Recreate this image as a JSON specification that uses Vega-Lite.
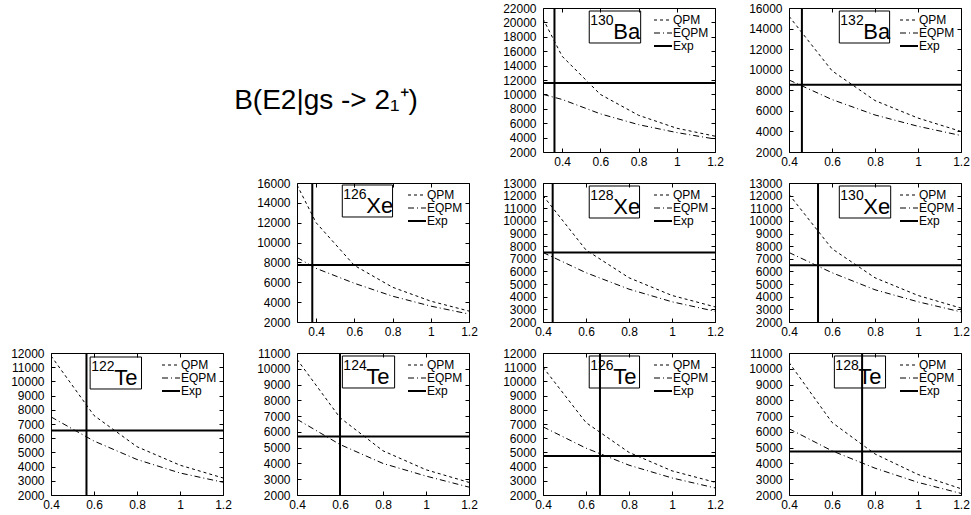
{
"$schema": "https://vega.github.io/schema/vega-lite/v6.json",
"padding": {"left": 10, "top": 1, "right": 0, "bottom": 0},
"background": "white",
"datasets": {
"curves": [
{"nucleus":"130Ba","model":"QPM","param":0.3,"be2":20500},{"nucleus":"130Ba","model":"QPM","param":0.4,"be2":15300},{"nucleus":"130Ba","model":"QPM","param":0.6,"be2":10000},{"nucleus":"130Ba","model":"QPM","param":0.8,"be2":7100},{"nucleus":"130Ba","model":"QPM","param":1.0,"be2":5300},{"nucleus":"130Ba","model":"QPM","param":1.2,"be2":4200},
{"nucleus":"130Ba","model":"EQPM","param":0.3,"be2":10000},{"nucleus":"130Ba","model":"EQPM","param":0.4,"be2":9300},{"nucleus":"130Ba","model":"EQPM","param":0.6,"be2":7300},{"nucleus":"130Ba","model":"EQPM","param":0.8,"be2":5800},{"nucleus":"130Ba","model":"EQPM","param":1.0,"be2":4700},{"nucleus":"130Ba","model":"EQPM","param":1.2,"be2":3800},
{"nucleus":"132Ba","model":"QPM","param":0.4,"be2":15200},{"nucleus":"132Ba","model":"QPM","param":0.6,"be2":9900},{"nucleus":"132Ba","model":"QPM","param":0.8,"be2":7000},{"nucleus":"132Ba","model":"QPM","param":1.0,"be2":5300},{"nucleus":"132Ba","model":"QPM","param":1.2,"be2":4000},
{"nucleus":"132Ba","model":"EQPM","param":0.4,"be2":9000},{"nucleus":"132Ba","model":"EQPM","param":0.6,"be2":7100},{"nucleus":"132Ba","model":"EQPM","param":0.8,"be2":5600},{"nucleus":"132Ba","model":"EQPM","param":1.0,"be2":4500},{"nucleus":"132Ba","model":"EQPM","param":1.2,"be2":3600},
{"nucleus":"126Xe","model":"QPM","param":0.3,"be2":15800},{"nucleus":"126Xe","model":"QPM","param":0.4,"be2":12000},{"nucleus":"126Xe","model":"QPM","param":0.6,"be2":7700},{"nucleus":"126Xe","model":"QPM","param":0.8,"be2":5500},{"nucleus":"126Xe","model":"QPM","param":1.0,"be2":4100},{"nucleus":"126Xe","model":"QPM","param":1.2,"be2":3100},
{"nucleus":"126Xe","model":"EQPM","param":0.3,"be2":8500},{"nucleus":"126Xe","model":"EQPM","param":0.4,"be2":7400},{"nucleus":"126Xe","model":"EQPM","param":0.6,"be2":5900},{"nucleus":"126Xe","model":"EQPM","param":0.8,"be2":4600},{"nucleus":"126Xe","model":"EQPM","param":1.0,"be2":3600},{"nucleus":"126Xe","model":"EQPM","param":1.2,"be2":2800},
{"nucleus":"128Xe","model":"QPM","param":0.4,"be2":12000},{"nucleus":"128Xe","model":"QPM","param":0.6,"be2":7700},{"nucleus":"128Xe","model":"QPM","param":0.8,"be2":5500},{"nucleus":"128Xe","model":"QPM","param":1.0,"be2":4100},{"nucleus":"128Xe","model":"QPM","param":1.2,"be2":3200},
{"nucleus":"128Xe","model":"EQPM","param":0.4,"be2":7500},{"nucleus":"128Xe","model":"EQPM","param":0.6,"be2":5900},{"nucleus":"128Xe","model":"EQPM","param":0.8,"be2":4600},{"nucleus":"128Xe","model":"EQPM","param":1.0,"be2":3600},{"nucleus":"128Xe","model":"EQPM","param":1.2,"be2":2850},
{"nucleus":"130Xe","model":"QPM","param":0.4,"be2":12100},{"nucleus":"130Xe","model":"QPM","param":0.6,"be2":7800},{"nucleus":"130Xe","model":"QPM","param":0.8,"be2":5500},{"nucleus":"130Xe","model":"QPM","param":1.0,"be2":4100},{"nucleus":"130Xe","model":"QPM","param":1.2,"be2":3100},
{"nucleus":"130Xe","model":"EQPM","param":0.4,"be2":7500},{"nucleus":"130Xe","model":"EQPM","param":0.6,"be2":5900},{"nucleus":"130Xe","model":"EQPM","param":0.8,"be2":4550},{"nucleus":"130Xe","model":"EQPM","param":1.0,"be2":3600},{"nucleus":"130Xe","model":"EQPM","param":1.2,"be2":2800},
{"nucleus":"122Te","model":"QPM","param":0.4,"be2":11800},{"nucleus":"122Te","model":"QPM","param":0.6,"be2":7600},{"nucleus":"122Te","model":"QPM","param":0.8,"be2":5400},{"nucleus":"122Te","model":"QPM","param":1.0,"be2":4100},{"nucleus":"122Te","model":"QPM","param":1.2,"be2":3200},
{"nucleus":"122Te","model":"EQPM","param":0.4,"be2":7500},{"nucleus":"122Te","model":"EQPM","param":0.6,"be2":5800},{"nucleus":"122Te","model":"EQPM","param":0.8,"be2":4500},{"nucleus":"122Te","model":"EQPM","param":1.0,"be2":3550},{"nucleus":"122Te","model":"EQPM","param":1.2,"be2":2900},
{"nucleus":"124Te","model":"QPM","param":0.4,"be2":10600},{"nucleus":"124Te","model":"QPM","param":0.6,"be2":6900},{"nucleus":"124Te","model":"QPM","param":0.8,"be2":4800},{"nucleus":"124Te","model":"QPM","param":1.0,"be2":3600},{"nucleus":"124Te","model":"QPM","param":1.2,"be2":2800},
{"nucleus":"124Te","model":"EQPM","param":0.4,"be2":6800},{"nucleus":"124Te","model":"EQPM","param":0.6,"be2":5200},{"nucleus":"124Te","model":"EQPM","param":0.8,"be2":4000},{"nucleus":"124Te","model":"EQPM","param":1.0,"be2":3200},{"nucleus":"124Te","model":"EQPM","param":1.2,"be2":2500},
{"nucleus":"126Te","model":"QPM","param":0.4,"be2":11000},{"nucleus":"126Te","model":"QPM","param":0.6,"be2":7100},{"nucleus":"126Te","model":"QPM","param":0.8,"be2":5000},{"nucleus":"126Te","model":"QPM","param":1.0,"be2":3700},{"nucleus":"126Te","model":"QPM","param":1.2,"be2":2900},
{"nucleus":"126Te","model":"EQPM","param":0.4,"be2":6800},{"nucleus":"126Te","model":"EQPM","param":0.6,"be2":5300},{"nucleus":"126Te","model":"EQPM","param":0.8,"be2":4100},{"nucleus":"126Te","model":"EQPM","param":1.0,"be2":3200},{"nucleus":"126Te","model":"EQPM","param":1.2,"be2":2500},
{"nucleus":"128Te","model":"QPM","param":0.4,"be2":10400},{"nucleus":"128Te","model":"QPM","param":0.6,"be2":6600},{"nucleus":"128Te","model":"QPM","param":0.8,"be2":4600},{"nucleus":"128Te","model":"QPM","param":1.0,"be2":3300},{"nucleus":"128Te","model":"QPM","param":1.2,"be2":2400},
{"nucleus":"128Te","model":"EQPM","param":0.4,"be2":6200},{"nucleus":"128Te","model":"EQPM","param":0.6,"be2":4800},{"nucleus":"128Te","model":"EQPM","param":0.8,"be2":3700},{"nucleus":"128Te","model":"EQPM","param":1.0,"be2":2800},{"nucleus":"128Te","model":"EQPM","param":1.2,"be2":2100}
],
"exp": [
{"nucleus":"130Ba","exp_param":0.36,"exp_be2":11600},
{"nucleus":"132Ba","exp_param":0.46,"exp_be2":8550},
{"nucleus":"126Xe","exp_param":0.38,"exp_be2":7750},
{"nucleus":"128Xe","exp_param":0.445,"exp_be2":7500},
{"nucleus":"130Xe","exp_param":0.535,"exp_be2":6500},
{"nucleus":"122Te","exp_param":0.565,"exp_be2":6550},
{"nucleus":"124Te","exp_param":0.6,"exp_be2":5700},
{"nucleus":"126Te","exp_param":0.665,"exp_be2":4750},
{"nucleus":"128Te","exp_param":0.74,"exp_be2":4750}
],
"labels": [
{"nucleus":"130Ba","mass":"130","element":"Ba"},
{"nucleus":"132Ba","mass":"132","element":"Ba"},
{"nucleus":"126Xe","mass":"126","element":"Xe"},
{"nucleus":"128Xe","mass":"128","element":"Xe"},
{"nucleus":"130Xe","mass":"130","element":"Xe"},
{"nucleus":"122Te","mass":"122","element":"Te"},
{"nucleus":"124Te","mass":"124","element":"Te"},
{"nucleus":"126Te","mass":"126","element":"Te"},
{"nucleus":"128Te","mass":"128","element":"Te"}
],
"title": [{"t": "B(E2|gs -> 2₁⁺)"}]
},
"columns": 4,
"spacing": {"row": 31, "column": 74},
"bounds": "flush",
"align": "each",
"resolve": {"scale": {"strokeDash": "independent"}},
"concat": [
{"width": 172, "height": 144, "data": {"values": []}, "mark": "point", "view": {"stroke": null}},
{"width": 172, "height": 144, "data": {"name": "title"}, "mark": {"type": "text", "fontSize": 28, "dx": -57, "dy": 21, "color": "black"}, "encoding": {"text": {"field": "t"}}, "view": {"stroke": null}},

{"width": 172, "height": 144, "resolve": {"axis": {"x": "independent", "y": "independent"}}, "layer": [
 {"data": {"name": "curves"}, "transform": [{"filter": "datum.nucleus === '130Ba'"}], "mark": {"type": "line", "color": "black", "strokeWidth": 1, "clip": true},
  "encoding": {
   "x": {"field": "param", "type": "quantitative", "scale": {"domain": [0.3, 1.2], "nice": false, "zero": false}, "axis": {"orient": "bottom", "values": [0.4,0.6,0.8,1,1.2], "format": "~g", "title": null}},
   "y": {"field": "be2", "type": "quantitative", "scale": {"domain": [2000, 22000], "nice": false, "zero": false}, "axis": {"orient": "left", "values": [2000,4000,6000,8000,10000,12000,14000,16000,18000,20000,22000], "format": "d", "title": null}},
   "strokeDash": {"field": "model", "type": "nominal", "scale": {"domain": ["QPM","EQPM","Exp"], "range": [[3,3],[6,3,1,3],[1,0]]}, "legend": {"title": null, "encode": {"symbols": {"update": {"strokeWidth": {"signal": "datum.value === 'Exp' ? 2 : 1"}}}}}}}},
 {"data": {"name": "exp"}, "transform": [{"filter": "datum.nucleus === '130Ba'"}], "mark": {"type": "rule", "color": "black", "strokeWidth": 2},
  "encoding": {"y": {"field": "exp_be2", "type": "quantitative", "axis": {"orient": "right", "values": [2000,4000,6000,8000,10000,12000,14000,16000,18000,20000,22000], "labels": false, "title": null}},
   "strokeDash": {"datum": "Exp", "type": "nominal"}}},
 {"data": {"name": "exp"}, "transform": [{"filter": "datum.nucleus === '130Ba'"}], "mark": {"type": "rule", "color": "black", "strokeWidth": 2},
  "encoding": {"x": {"field": "exp_param", "type": "quantitative", "axis": {"orient": "top", "values": [0.4,0.6,0.8,1,1.2], "labels": false, "title": null}},
   "strokeDash": {"datum": "Exp", "type": "nominal"}}},
 {"data": {"name": "labels"}, "transform": [{"filter": "datum.nucleus === '130Ba'"}], "mark": {"type": "rect", "filled": false, "color": "black", "strokeWidth": 1},
  "encoding": {"x": {"datum": 0.542, "axis": null}, "x2": {"datum": 0.811}, "y": {"datum": 21583, "axis": null}, "y2": {"datum": 17139}}},
 {"data": {"name": "labels"}, "transform": [{"filter": "datum.nucleus === '130Ba'"}], "mark": {"type": "text", "align": "left", "baseline": "top", "fontSize": 14, "dx": 1, "dy": 3, "color": "black"},
  "encoding": {"x": {"datum": 0.542, "axis": null}, "y": {"datum": 21583, "axis": null}, "text": {"field": "mass"}}},
 {"data": {"name": "labels"}, "transform": [{"filter": "datum.nucleus === '130Ba'"}], "mark": {"type": "text", "align": "left", "baseline": "alphabetic", "fontSize": 22, "dx": 24, "dy": -4, "color": "black"},
  "encoding": {"x": {"datum": 0.542, "axis": null}, "y": {"datum": 17139, "axis": null}, "text": {"field": "element"}}}
]},

{"width": 172, "height": 144, "resolve": {"axis": {"x": "independent", "y": "independent"}}, "layer": [
 {"data": {"name": "curves"}, "transform": [{"filter": "datum.nucleus === '132Ba'"}], "mark": {"type": "line", "color": "black", "strokeWidth": 1, "clip": true},
  "encoding": {
   "x": {"field": "param", "type": "quantitative", "scale": {"domain": [0.4, 1.2], "nice": false, "zero": false}, "axis": {"orient": "bottom", "values": [0.4,0.6,0.8,1,1.2], "format": "~g", "title": null}},
   "y": {"field": "be2", "type": "quantitative", "scale": {"domain": [2000, 16000], "nice": false, "zero": false}, "axis": {"orient": "left", "values": [2000,4000,6000,8000,10000,12000,14000,16000], "format": "d", "title": null}},
   "strokeDash": {"field": "model", "type": "nominal", "scale": {"domain": ["QPM","EQPM","Exp"], "range": [[3,3],[6,3,1,3],[1,0]]}, "legend": {"title": null, "encode": {"symbols": {"update": {"strokeWidth": {"signal": "datum.value === 'Exp' ? 2 : 1"}}}}}}}},
 {"data": {"name": "exp"}, "transform": [{"filter": "datum.nucleus === '132Ba'"}], "mark": {"type": "rule", "color": "black", "strokeWidth": 2},
  "encoding": {"y": {"field": "exp_be2", "type": "quantitative", "axis": {"orient": "right", "values": [2000,4000,6000,8000,10000,12000,14000,16000], "labels": false, "title": null}},
   "strokeDash": {"datum": "Exp", "type": "nominal"}}},
 {"data": {"name": "exp"}, "transform": [{"filter": "datum.nucleus === '132Ba'"}], "mark": {"type": "rule", "color": "black", "strokeWidth": 2},
  "encoding": {"x": {"field": "exp_param", "type": "quantitative", "axis": {"orient": "top", "values": [0.4,0.6,0.8,1,1.2], "labels": false, "title": null}},
   "strokeDash": {"datum": "Exp", "type": "nominal"}}},
 {"data": {"name": "labels"}, "transform": [{"filter": "datum.nucleus === '132Ba'"}], "mark": {"type": "rect", "filled": false, "color": "black", "strokeWidth": 1},
  "encoding": {"x": {"datum": 0.634, "axis": null}, "x2": {"datum": 0.868}, "y": {"datum": 15708, "axis": null}, "y2": {"datum": 12597}}},
 {"data": {"name": "labels"}, "transform": [{"filter": "datum.nucleus === '132Ba'"}], "mark": {"type": "text", "align": "left", "baseline": "top", "fontSize": 14, "dx": 1, "dy": 3, "color": "black"},
  "encoding": {"x": {"datum": 0.634, "axis": null}, "y": {"datum": 15708, "axis": null}, "text": {"field": "mass"}}},
 {"data": {"name": "labels"}, "transform": [{"filter": "datum.nucleus === '132Ba'"}], "mark": {"type": "text", "align": "left", "baseline": "alphabetic", "fontSize": 22, "dx": 24, "dy": -4, "color": "black"},
  "encoding": {"x": {"datum": 0.634, "axis": null}, "y": {"datum": 12597, "axis": null}, "text": {"field": "element"}}}
]},

{"width": 172, "height": 139, "data": {"values": []}, "mark": "point", "view": {"stroke": null}},

{"width": 172, "height": 139, "resolve": {"axis": {"x": "independent", "y": "independent"}}, "layer": [
 {"data": {"name": "curves"}, "transform": [{"filter": "datum.nucleus === '126Xe'"}], "mark": {"type": "line", "color": "black", "strokeWidth": 1, "clip": true},
  "encoding": {
   "x": {"field": "param", "type": "quantitative", "scale": {"domain": [0.3, 1.2], "nice": false, "zero": false}, "axis": {"orient": "bottom", "values": [0.4,0.6,0.8,1,1.2], "format": "~g", "title": null}},
   "y": {"field": "be2", "type": "quantitative", "scale": {"domain": [2000, 16000], "nice": false, "zero": false}, "axis": {"orient": "left", "values": [2000,4000,6000,8000,10000,12000,14000,16000], "format": "d", "title": null}},
   "strokeDash": {"field": "model", "type": "nominal", "scale": {"domain": ["QPM","EQPM","Exp"], "range": [[3,3],[6,3,1,3],[1,0]]}, "legend": {"title": null, "encode": {"symbols": {"update": {"strokeWidth": {"signal": "datum.value === 'Exp' ? 2 : 1"}}}}}}}},
 {"data": {"name": "exp"}, "transform": [{"filter": "datum.nucleus === '126Xe'"}], "mark": {"type": "rule", "color": "black", "strokeWidth": 2},
  "encoding": {"y": {"field": "exp_be2", "type": "quantitative", "axis": {"orient": "right", "values": [2000,4000,6000,8000,10000,12000,14000,16000], "labels": false, "title": null}},
   "strokeDash": {"datum": "Exp", "type": "nominal"}}},
 {"data": {"name": "exp"}, "transform": [{"filter": "datum.nucleus === '126Xe'"}], "mark": {"type": "rule", "color": "black", "strokeWidth": 2},
  "encoding": {"x": {"field": "exp_param", "type": "quantitative", "axis": {"orient": "top", "values": [0.4,0.6,0.8,1,1.2], "labels": false, "title": null}},
   "strokeDash": {"datum": "Exp", "type": "nominal"}}},
 {"data": {"name": "labels"}, "transform": [{"filter": "datum.nucleus === '126Xe'"}], "mark": {"type": "rect", "filled": false, "color": "black", "strokeWidth": 1},
  "encoding": {"x": {"datum": 0.537, "axis": null}, "x2": {"datum": 0.8}, "y": {"datum": 15799, "axis": null}, "y2": {"datum": 12576}}},
 {"data": {"name": "labels"}, "transform": [{"filter": "datum.nucleus === '126Xe'"}], "mark": {"type": "text", "align": "left", "baseline": "top", "fontSize": 14, "dx": 1, "dy": 3, "color": "black"},
  "encoding": {"x": {"datum": 0.537, "axis": null}, "y": {"datum": 15799, "axis": null}, "text": {"field": "mass"}}},
 {"data": {"name": "labels"}, "transform": [{"filter": "datum.nucleus === '126Xe'"}], "mark": {"type": "text", "align": "left", "baseline": "alphabetic", "fontSize": 22, "dx": 24, "dy": -4, "color": "black"},
  "encoding": {"x": {"datum": 0.537, "axis": null}, "y": {"datum": 12576, "axis": null}, "text": {"field": "element"}}}
]},

{"width": 172, "height": 139, "resolve": {"axis": {"x": "independent", "y": "independent"}}, "layer": [
 {"data": {"name": "curves"}, "transform": [{"filter": "datum.nucleus === '128Xe'"}], "mark": {"type": "line", "color": "black", "strokeWidth": 1, "clip": true},
  "encoding": {
   "x": {"field": "param", "type": "quantitative", "scale": {"domain": [0.4, 1.2], "nice": false, "zero": false}, "axis": {"orient": "bottom", "values": [0.4,0.6,0.8,1,1.2], "format": "~g", "title": null}},
   "y": {"field": "be2", "type": "quantitative", "scale": {"domain": [2000, 13000], "nice": false, "zero": false}, "axis": {"orient": "left", "values": [2000,3000,4000,5000,6000,7000,8000,9000,10000,11000,12000,13000], "format": "d", "title": null}},
   "strokeDash": {"field": "model", "type": "nominal", "scale": {"domain": ["QPM","EQPM","Exp"], "range": [[3,3],[6,3,1,3],[1,0]]}, "legend": {"title": null, "encode": {"symbols": {"update": {"strokeWidth": {"signal": "datum.value === 'Exp' ? 2 : 1"}}}}}}}},
 {"data": {"name": "exp"}, "transform": [{"filter": "datum.nucleus === '128Xe'"}], "mark": {"type": "rule", "color": "black", "strokeWidth": 2},
  "encoding": {"y": {"field": "exp_be2", "type": "quantitative", "axis": {"orient": "right", "values": [2000,3000,4000,5000,6000,7000,8000,9000,10000,11000,12000,13000], "labels": false, "title": null}},
   "strokeDash": {"datum": "Exp", "type": "nominal"}}},
 {"data": {"name": "exp"}, "transform": [{"filter": "datum.nucleus === '128Xe'"}], "mark": {"type": "rule", "color": "black", "strokeWidth": 2},
  "encoding": {"x": {"field": "exp_param", "type": "quantitative", "axis": {"orient": "top", "values": [0.4,0.6,0.8,1,1.2], "labels": false, "title": null}},
   "strokeDash": {"datum": "Exp", "type": "nominal"}}},
 {"data": {"name": "labels"}, "transform": [{"filter": "datum.nucleus === '128Xe'"}], "mark": {"type": "rect", "filled": false, "color": "black", "strokeWidth": 1},
  "encoding": {"x": {"datum": 0.615, "axis": null}, "x2": {"datum": 0.849}, "y": {"datum": 12763, "axis": null}, "y2": {"datum": 10230}}},
 {"data": {"name": "labels"}, "transform": [{"filter": "datum.nucleus === '128Xe'"}], "mark": {"type": "text", "align": "left", "baseline": "top", "fontSize": 14, "dx": 1, "dy": 3, "color": "black"},
  "encoding": {"x": {"datum": 0.615, "axis": null}, "y": {"datum": 12763, "axis": null}, "text": {"field": "mass"}}},
 {"data": {"name": "labels"}, "transform": [{"filter": "datum.nucleus === '128Xe'"}], "mark": {"type": "text", "align": "left", "baseline": "alphabetic", "fontSize": 22, "dx": 24, "dy": -4, "color": "black"},
  "encoding": {"x": {"datum": 0.615, "axis": null}, "y": {"datum": 10230, "axis": null}, "text": {"field": "element"}}}
]},

{"width": 172, "height": 139, "resolve": {"axis": {"x": "independent", "y": "independent"}}, "layer": [
 {"data": {"name": "curves"}, "transform": [{"filter": "datum.nucleus === '130Xe'"}], "mark": {"type": "line", "color": "black", "strokeWidth": 1, "clip": true},
  "encoding": {
   "x": {"field": "param", "type": "quantitative", "scale": {"domain": [0.4, 1.2], "nice": false, "zero": false}, "axis": {"orient": "bottom", "values": [0.4,0.6,0.8,1,1.2], "format": "~g", "title": null}},
   "y": {"field": "be2", "type": "quantitative", "scale": {"domain": [2000, 13000], "nice": false, "zero": false}, "axis": {"orient": "left", "values": [2000,3000,4000,5000,6000,7000,8000,9000,10000,11000,12000,13000], "format": "d", "title": null}},
   "strokeDash": {"field": "model", "type": "nominal", "scale": {"domain": ["QPM","EQPM","Exp"], "range": [[3,3],[6,3,1,3],[1,0]]}, "legend": {"title": null, "encode": {"symbols": {"update": {"strokeWidth": {"signal": "datum.value === 'Exp' ? 2 : 1"}}}}}}}},
 {"data": {"name": "exp"}, "transform": [{"filter": "datum.nucleus === '130Xe'"}], "mark": {"type": "rule", "color": "black", "strokeWidth": 2},
  "encoding": {"y": {"field": "exp_be2", "type": "quantitative", "axis": {"orient": "right", "values": [2000,3000,4000,5000,6000,7000,8000,9000,10000,11000,12000,13000], "labels": false, "title": null}},
   "strokeDash": {"datum": "Exp", "type": "nominal"}}},
 {"data": {"name": "exp"}, "transform": [{"filter": "datum.nucleus === '130Xe'"}], "mark": {"type": "rule", "color": "black", "strokeWidth": 2},
  "encoding": {"x": {"field": "exp_param", "type": "quantitative", "axis": {"orient": "top", "values": [0.4,0.6,0.8,1,1.2], "labels": false, "title": null}},
   "strokeDash": {"datum": "Exp", "type": "nominal"}}},
 {"data": {"name": "labels"}, "transform": [{"filter": "datum.nucleus === '130Xe'"}], "mark": {"type": "rect", "filled": false, "color": "black", "strokeWidth": 1},
  "encoding": {"x": {"datum": 0.634, "axis": null}, "x2": {"datum": 0.873}, "y": {"datum": 12763, "axis": null}, "y2": {"datum": 10230}}},
 {"data": {"name": "labels"}, "transform": [{"filter": "datum.nucleus === '130Xe'"}], "mark": {"type": "text", "align": "left", "baseline": "top", "fontSize": 14, "dx": 1, "dy": 3, "color": "black"},
  "encoding": {"x": {"datum": 0.634, "axis": null}, "y": {"datum": 12763, "axis": null}, "text": {"field": "mass"}}},
 {"data": {"name": "labels"}, "transform": [{"filter": "datum.nucleus === '130Xe'"}], "mark": {"type": "text", "align": "left", "baseline": "alphabetic", "fontSize": 22, "dx": 24, "dy": -4, "color": "black"},
  "encoding": {"x": {"datum": 0.634, "axis": null}, "y": {"datum": 10230, "axis": null}, "text": {"field": "element"}}}
]},

{"width": 172, "height": 142, "resolve": {"axis": {"x": "independent", "y": "independent"}}, "layer": [
 {"data": {"name": "curves"}, "transform": [{"filter": "datum.nucleus === '122Te'"}], "mark": {"type": "line", "color": "black", "strokeWidth": 1, "clip": true},
  "encoding": {
   "x": {"field": "param", "type": "quantitative", "scale": {"domain": [0.4, 1.2], "nice": false, "zero": false}, "axis": {"orient": "bottom", "values": [0.4,0.6,0.8,1,1.2], "format": "~g", "title": null}},
   "y": {"field": "be2", "type": "quantitative", "scale": {"domain": [2000, 12000], "nice": false, "zero": false}, "axis": {"orient": "left", "values": [2000,3000,4000,5000,6000,7000,8000,9000,10000,11000,12000], "format": "d", "title": null}},
   "strokeDash": {"field": "model", "type": "nominal", "scale": {"domain": ["QPM","EQPM","Exp"], "range": [[3,3],[6,3,1,3],[1,0]]}, "legend": {"title": null, "encode": {"symbols": {"update": {"strokeWidth": {"signal": "datum.value === 'Exp' ? 2 : 1"}}}}}}}},
 {"data": {"name": "exp"}, "transform": [{"filter": "datum.nucleus === '122Te'"}], "mark": {"type": "rule", "color": "black", "strokeWidth": 2},
  "encoding": {"y": {"field": "exp_be2", "type": "quantitative", "axis": {"orient": "right", "values": [2000,3000,4000,5000,6000,7000,8000,9000,10000,11000,12000], "labels": false, "title": null}},
   "strokeDash": {"datum": "Exp", "type": "nominal"}}},
 {"data": {"name": "exp"}, "transform": [{"filter": "datum.nucleus === '122Te'"}], "mark": {"type": "rule", "color": "black", "strokeWidth": 2},
  "encoding": {"x": {"field": "exp_param", "type": "quantitative", "axis": {"orient": "top", "values": [0.4,0.6,0.8,1,1.2], "labels": false, "title": null}},
   "strokeDash": {"datum": "Exp", "type": "nominal"}}},
 {"data": {"name": "labels"}, "transform": [{"filter": "datum.nucleus === '122Te'"}], "mark": {"type": "rect", "filled": false, "color": "black", "strokeWidth": 1},
  "encoding": {"x": {"datum": 0.582, "axis": null}, "x2": {"datum": 0.821}, "y": {"datum": 11718, "axis": null}, "y2": {"datum": 9465}}},
 {"data": {"name": "labels"}, "transform": [{"filter": "datum.nucleus === '122Te'"}], "mark": {"type": "text", "align": "left", "baseline": "top", "fontSize": 14, "dx": 1, "dy": 3, "color": "black"},
  "encoding": {"x": {"datum": 0.582, "axis": null}, "y": {"datum": 11718, "axis": null}, "text": {"field": "mass"}}},
 {"data": {"name": "labels"}, "transform": [{"filter": "datum.nucleus === '122Te'"}], "mark": {"type": "text", "align": "left", "baseline": "alphabetic", "fontSize": 22, "dx": 24, "dy": -4, "color": "black"},
  "encoding": {"x": {"datum": 0.582, "axis": null}, "y": {"datum": 9465, "axis": null}, "text": {"field": "element"}}}
]},

{"width": 172, "height": 142, "resolve": {"axis": {"x": "independent", "y": "independent"}}, "layer": [
 {"data": {"name": "curves"}, "transform": [{"filter": "datum.nucleus === '124Te'"}], "mark": {"type": "line", "color": "black", "strokeWidth": 1, "clip": true},
  "encoding": {
   "x": {"field": "param", "type": "quantitative", "scale": {"domain": [0.4, 1.2], "nice": false, "zero": false}, "axis": {"orient": "bottom", "values": [0.4,0.6,0.8,1,1.2], "format": "~g", "title": null}},
   "y": {"field": "be2", "type": "quantitative", "scale": {"domain": [2000, 11000], "nice": false, "zero": false}, "axis": {"orient": "left", "values": [2000,3000,4000,5000,6000,7000,8000,9000,10000,11000], "format": "d", "title": null}},
   "strokeDash": {"field": "model", "type": "nominal", "scale": {"domain": ["QPM","EQPM","Exp"], "range": [[3,3],[6,3,1,3],[1,0]]}, "legend": {"title": null, "encode": {"symbols": {"update": {"strokeWidth": {"signal": "datum.value === 'Exp' ? 2 : 1"}}}}}}}},
 {"data": {"name": "exp"}, "transform": [{"filter": "datum.nucleus === '124Te'"}], "mark": {"type": "rule", "color": "black", "strokeWidth": 2},
  "encoding": {"y": {"field": "exp_be2", "type": "quantitative", "axis": {"orient": "right", "values": [2000,3000,4000,5000,6000,7000,8000,9000,10000,11000], "labels": false, "title": null}},
   "strokeDash": {"datum": "Exp", "type": "nominal"}}},
 {"data": {"name": "exp"}, "transform": [{"filter": "datum.nucleus === '124Te'"}], "mark": {"type": "rule", "color": "black", "strokeWidth": 2},
  "encoding": {"x": {"field": "exp_param", "type": "quantitative", "axis": {"orient": "top", "values": [0.4,0.6,0.8,1,1.2], "labels": false, "title": null}},
   "strokeDash": {"datum": "Exp", "type": "nominal"}}},
 {"data": {"name": "labels"}, "transform": [{"filter": "datum.nucleus === '124Te'"}], "mark": {"type": "rect", "filled": false, "color": "black", "strokeWidth": 1},
  "encoding": {"x": {"datum": 0.611, "axis": null}, "x2": {"datum": 0.854}, "y": {"datum": 10810, "axis": null}, "y2": {"datum": 8782}}},
 {"data": {"name": "labels"}, "transform": [{"filter": "datum.nucleus === '124Te'"}], "mark": {"type": "text", "align": "left", "baseline": "top", "fontSize": 14, "dx": 1, "dy": 3, "color": "black"},
  "encoding": {"x": {"datum": 0.611, "axis": null}, "y": {"datum": 10810, "axis": null}, "text": {"field": "mass"}}},
 {"data": {"name": "labels"}, "transform": [{"filter": "datum.nucleus === '124Te'"}], "mark": {"type": "text", "align": "left", "baseline": "alphabetic", "fontSize": 22, "dx": 24, "dy": -4, "color": "black"},
  "encoding": {"x": {"datum": 0.611, "axis": null}, "y": {"datum": 8782, "axis": null}, "text": {"field": "element"}}}
]},

{"width": 172, "height": 142, "resolve": {"axis": {"x": "independent", "y": "independent"}}, "layer": [
 {"data": {"name": "curves"}, "transform": [{"filter": "datum.nucleus === '126Te'"}], "mark": {"type": "line", "color": "black", "strokeWidth": 1, "clip": true},
  "encoding": {
   "x": {"field": "param", "type": "quantitative", "scale": {"domain": [0.4, 1.2], "nice": false, "zero": false}, "axis": {"orient": "bottom", "values": [0.4,0.6,0.8,1,1.2], "format": "~g", "title": null}},
   "y": {"field": "be2", "type": "quantitative", "scale": {"domain": [2000, 12000], "nice": false, "zero": false}, "axis": {"orient": "left", "values": [2000,3000,4000,5000,6000,7000,8000,9000,10000,11000,12000], "format": "d", "title": null}},
   "strokeDash": {"field": "model", "type": "nominal", "scale": {"domain": ["QPM","EQPM","Exp"], "range": [[3,3],[6,3,1,3],[1,0]]}, "legend": {"title": null, "encode": {"symbols": {"update": {"strokeWidth": {"signal": "datum.value === 'Exp' ? 2 : 1"}}}}}}}},
 {"data": {"name": "exp"}, "transform": [{"filter": "datum.nucleus === '126Te'"}], "mark": {"type": "rule", "color": "black", "strokeWidth": 2},
  "encoding": {"y": {"field": "exp_be2", "type": "quantitative", "axis": {"orient": "right", "values": [2000,3000,4000,5000,6000,7000,8000,9000,10000,11000,12000], "labels": false, "title": null}},
   "strokeDash": {"datum": "Exp", "type": "nominal"}}},
 {"data": {"name": "exp"}, "transform": [{"filter": "datum.nucleus === '126Te'"}], "mark": {"type": "rule", "color": "black", "strokeWidth": 2},
  "encoding": {"x": {"field": "exp_param", "type": "quantitative", "axis": {"orient": "top", "values": [0.4,0.6,0.8,1,1.2], "labels": false, "title": null}},
   "strokeDash": {"datum": "Exp", "type": "nominal"}}},
 {"data": {"name": "labels"}, "transform": [{"filter": "datum.nucleus === '126Te'"}], "mark": {"type": "rect", "filled": false, "color": "black", "strokeWidth": 1},
  "encoding": {"x": {"datum": 0.615, "axis": null}, "x2": {"datum": 0.849}, "y": {"datum": 11789, "axis": null}, "y2": {"datum": 9535}}},
 {"data": {"name": "labels"}, "transform": [{"filter": "datum.nucleus === '126Te'"}], "mark": {"type": "text", "align": "left", "baseline": "top", "fontSize": 14, "dx": 1, "dy": 3, "color": "black"},
  "encoding": {"x": {"datum": 0.615, "axis": null}, "y": {"datum": 11789, "axis": null}, "text": {"field": "mass"}}},
 {"data": {"name": "labels"}, "transform": [{"filter": "datum.nucleus === '126Te'"}], "mark": {"type": "text", "align": "left", "baseline": "alphabetic", "fontSize": 22, "dx": 24, "dy": -4, "color": "black"},
  "encoding": {"x": {"datum": 0.615, "axis": null}, "y": {"datum": 9535, "axis": null}, "text": {"field": "element"}}}
]},

{"width": 172, "height": 142, "resolve": {"axis": {"x": "independent", "y": "independent"}}, "layer": [
 {"data": {"name": "curves"}, "transform": [{"filter": "datum.nucleus === '128Te'"}], "mark": {"type": "line", "color": "black", "strokeWidth": 1, "clip": true},
  "encoding": {
   "x": {"field": "param", "type": "quantitative", "scale": {"domain": [0.4, 1.2], "nice": false, "zero": false}, "axis": {"orient": "bottom", "values": [0.4,0.6,0.8,1,1.2], "format": "~g", "title": null}},
   "y": {"field": "be2", "type": "quantitative", "scale": {"domain": [2000, 11000], "nice": false, "zero": false}, "axis": {"orient": "left", "values": [2000,3000,4000,5000,6000,7000,8000,9000,10000,11000], "format": "d", "title": null}},
   "strokeDash": {"field": "model", "type": "nominal", "scale": {"domain": ["QPM","EQPM","Exp"], "range": [[3,3],[6,3,1,3],[1,0]]}, "legend": {"title": null, "encode": {"symbols": {"update": {"strokeWidth": {"signal": "datum.value === 'Exp' ? 2 : 1"}}}}}}}},
 {"data": {"name": "exp"}, "transform": [{"filter": "datum.nucleus === '128Te'"}], "mark": {"type": "rule", "color": "black", "strokeWidth": 2},
  "encoding": {"y": {"field": "exp_be2", "type": "quantitative", "axis": {"orient": "right", "values": [2000,3000,4000,5000,6000,7000,8000,9000,10000,11000], "labels": false, "title": null}},
   "strokeDash": {"datum": "Exp", "type": "nominal"}}},
 {"data": {"name": "exp"}, "transform": [{"filter": "datum.nucleus === '128Te'"}], "mark": {"type": "rule", "color": "black", "strokeWidth": 2},
  "encoding": {"x": {"field": "exp_param", "type": "quantitative", "axis": {"orient": "top", "values": [0.4,0.6,0.8,1,1.2], "labels": false, "title": null}},
   "strokeDash": {"datum": "Exp", "type": "nominal"}}},
 {"data": {"name": "labels"}, "transform": [{"filter": "datum.nucleus === '128Te'"}], "mark": {"type": "rect", "filled": false, "color": "black", "strokeWidth": 1},
  "encoding": {"x": {"datum": 0.611, "axis": null}, "x2": {"datum": 0.849}, "y": {"datum": 10810, "axis": null}, "y2": {"datum": 8782}}},
 {"data": {"name": "labels"}, "transform": [{"filter": "datum.nucleus === '128Te'"}], "mark": {"type": "text", "align": "left", "baseline": "top", "fontSize": 14, "dx": 1, "dy": 3, "color": "black"},
  "encoding": {"x": {"datum": 0.611, "axis": null}, "y": {"datum": 10810, "axis": null}, "text": {"field": "mass"}}},
 {"data": {"name": "labels"}, "transform": [{"filter": "datum.nucleus === '128Te'"}], "mark": {"type": "text", "align": "left", "baseline": "alphabetic", "fontSize": 22, "dx": 24, "dy": -4, "color": "black"},
  "encoding": {"x": {"datum": 0.611, "axis": null}, "y": {"datum": 8782, "axis": null}, "text": {"field": "element"}}}
]}
],
"config": {
 "font": "Liberation Sans",
 "view": {"stroke": "black", "strokeWidth": 1},
 "axis": {"domain": false, "grid": false, "ticks": true, "tickSize": -4, "tickColor": "black", "tickWidth": 1, "labelFont": "Liberation Sans", "labelFontSize": 12, "labelColor": "black", "labelOverlap": false, "labelFlush": false, "labelBound": false},
 "axisX": {"labelPadding": 8},
 "axisY": {"labelPadding": 11},
 "legend": {"orient": "top-right", "offset": 6, "padding": 0, "symbolType": "stroke", "symbolSize": 324, "symbolStrokeColor": "black", "labelFont": "Liberation Sans", "labelFontSize": 12, "labelColor": "black", "rowPadding": 1, "labelOffset": 4, "labelLimit": 100}
}
}
